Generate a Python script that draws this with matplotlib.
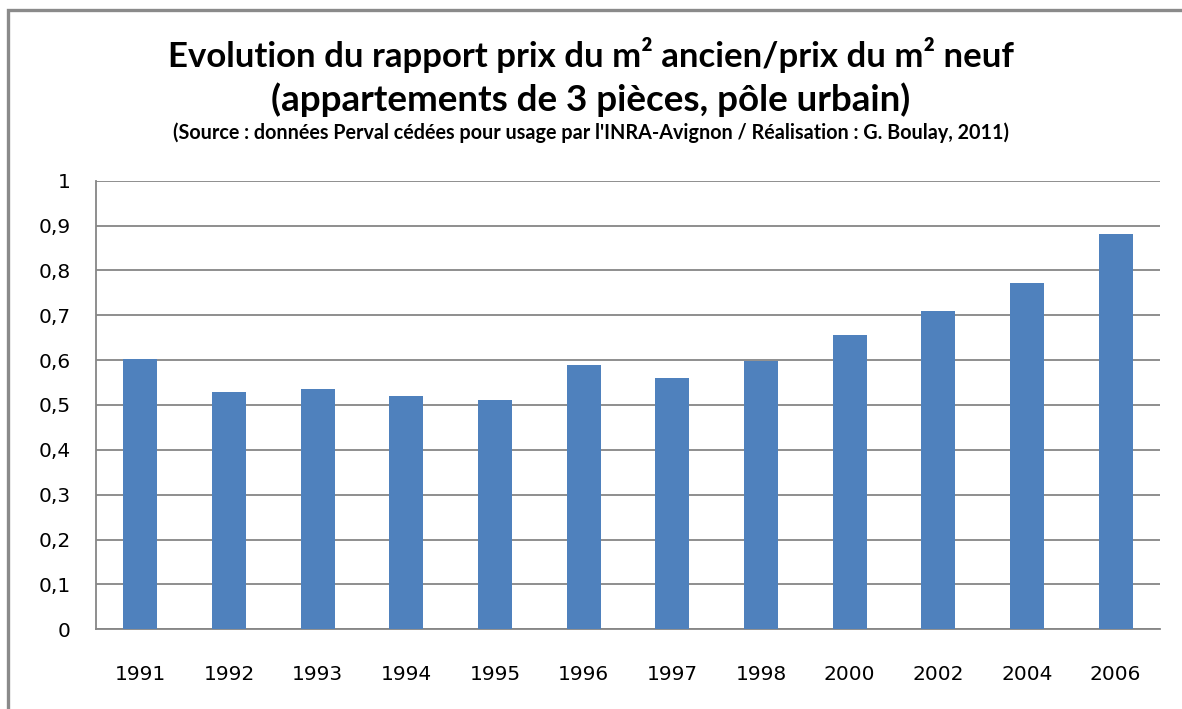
import matplotlib
matplotlib.use("Agg")
import matplotlib.pyplot as plt
from matplotlib.patches import Rectangle

years = ["1991", "1992", "1993", "1994", "1995", "1996",
         "1997", "1998", "2000", "2002", "2004", "2006"]
ratio = [0.603, 0.530, 0.536, 0.521, 0.512, 0.590,
         0.561, 0.599, 0.656, 0.710, 0.772, 0.881]
yticks = [0, 0.1, 0.2, 0.3, 0.4, 0.5, 0.6, 0.7, 0.8, 0.9, 1]

title1 = "Evolution du rapport prix du m² ancien/prix du m² neuf"
title2 = "(appartements de 3 pièces, pôle urbain)"
source = ("(Source : données Perval cédées pour usage par l'INRA-Avignon / "
          "Réalisation : G. Boulay, 2011)")

W, H = 1182, 709
fig = plt.figure(figsize=(W / 100, H / 100), dpi=100)

# chart frame (open to the right and bottom)
fig.patches.append(Rectangle((8 / W, -0.1), 1.2, (H - 10) / H + 0.1,
                             transform=fig.transFigure, fill=False,
                             edgecolor="#8a8a8a", linewidth=2.4))

ax = fig.add_axes([96 / W, (H - 629.3) / H, (1160 - 96) / W, (629.3 - 180.7) / H])
x = range(len(years))
ax.bar(x, ratio, width=0.38, color="#4F81BD", zorder=3)
ax.set_xlim(-0.5, len(years) - 0.5)
ax.set_ylim(0, 1)
ax.set_yticks(yticks)
ax.set_yticklabels([("%g" % v).replace(".", ",") for v in yticks])
ax.set_xticks(list(x))
ax.set_xticklabels(years)
ax.tick_params(axis="both", length=0, labelsize=14.5, colors="black")
ax.tick_params(axis="y", pad=18)
ax.tick_params(axis="x", pad=26)
ax.grid(axis="y", color="#868686", linewidth=1.3, zorder=0)
for side in ("top", "right"):
    ax.spines[side].set_visible(False)
for side in ("left", "bottom"):
    ax.spines[side].set_color("#868686")
    ax.spines[side].set_linewidth(1.3)

tfont = ["Lato", "DejaVu Sans"]
fig.text(0.5, 1 - 55 / H, title1, ha="center", va="center",
         fontsize=25, fontweight="bold", family=tfont)
fig.text(0.5, 1 - 100 / H, title2, ha="center", va="center",
         fontsize=26.5, fontweight="bold", family=tfont)
fig.text(0.5, 1 - 133 / H, source, ha="center", va="center",
         fontsize=14.2, fontweight="bold", family=tfont)

fig.savefig("out.png", dpi=100)
